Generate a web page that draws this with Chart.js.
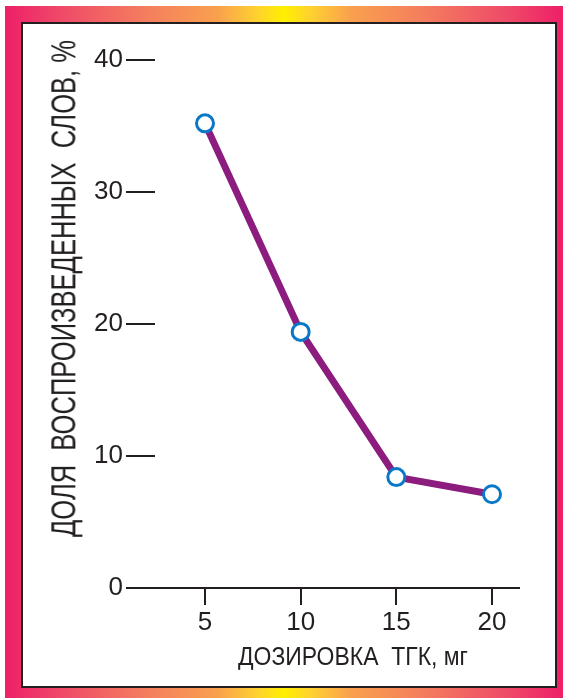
<!DOCTYPE html>
<html>
<head>
<meta charset="utf-8">
<script src="https://cdn.jsdelivr.net/npm/chart.js@4"></script>
<style>
  html, body { margin: 0; padding: 0; background: #fff; }
  body { width: 563px; height: 698px; position: relative; overflow: hidden; }
  .frame {
    position: absolute; left: 5px; top: 6px; width: 558px; height: 692px;
    background: linear-gradient(to right, #ee1f68 0%, #ef4a68 10%, #f47d5e 25%, #f9a04e 38%, #ffd030 45%, #fff000 50%, #ffd030 55%, #f9a04e 62%, #f47d5e 75%, #ef4a68 90%, #ee1f68 100%);
  }
  .panel {
    position: absolute; left: 21px; top: 22px; width: 532px; height: 662px;
    background: #fff; border: 2px solid #231f20;
  }
  canvas { position: absolute; left: 0; top: 0; }
  .axis-title {
    position: absolute; left: 0; top: 0; white-space: pre;
    font-family: "Liberation Sans", Arial, sans-serif;
    color: #231f20; transform-origin: 0 0;
  }
  #xTitle { font-size: 25px; line-height: 25px; }
  #yTitle { font-size: 35px; line-height: 35px; }
</style>
</head>
<body>
<div class="frame"></div>
<div class="panel"></div>
<canvas id="chart" width="563" height="698"></canvas>
<div class="axis-title" id="xTitle">ДОЗИРОВКА  ТГК, мг</div>
<div class="axis-title" id="yTitle">ДОЛЯ  ВОСПРОИЗВЕДЕННЫХ  СЛОВ, %</div>
<script>
// Dose of THC (mg) and share of recalled words (%)
const doses = [5, 10, 15, 20];
const recalledShare = [35.2, 19.4, 8.4, 7.1];
const xTickValues = [5, 10, 15, 20];
const yTickValues = [0, 10, 20, 30, 40];

const ink = '#231f20';
const tickFont = { family: '"Liberation Sans", Arial, sans-serif', size: 26, lineHeight: 1.2 };

// Axis titles use a narrowed sans: width is fitted to the given length,
// the baseline is placed at (cx, cy) and the text is centred on it.
function placeTitle(el, cx, cy, length, fontSize, angle) {
  const w = el.getBoundingClientRect().width;
  const k = length / w;
  const base = 0.8465 * fontSize;
  el.style.transform = `translate(${cx}px, ${cy}px) rotate(${angle}deg) scaleX(${k}) translate(-50%, -${base}px)`;
}
placeTitle(document.getElementById('xTitle'), 353, 665, 230, 25, 0);
placeTitle(document.getElementById('yTitle'), 75, 288.5, 497, 35, -90);

new Chart(document.getElementById('chart'), {
  type: 'line',
  data: {
    datasets: [{
      data: doses.map((d, i) => ({ x: d, y: recalledShare[i] })),
      borderColor: '#8c1d7e',
      borderWidth: 7,
      tension: 0,
      pointRadius: 8.5,
      pointHoverRadius: 8.5,
      pointBorderWidth: 3,
      pointBackgroundColor: '#ffffff',
      pointBorderColor: '#0a78c8',
      clip: false
    }]
  },
  options: {
    responsive: false,
    animation: false,
    events: [],
    layout: { padding: { left: 75, right: 44, top: 60, bottom: 50 } },
    plugins: { legend: { display: false }, tooltip: { enabled: false } },
    scales: {
      x: {
        type: 'linear',
        min: 2.387,
        max: 21.411,
        afterFit: s => { s.height = 60; },
        afterBuildTicks: s => { s.ticks = xTickValues.map(v => ({ value: v })); },
        border: { display: true, color: ink, width: 2 },
        grid: { drawOnChartArea: false, drawTicks: true, tickLength: 17, tickWidth: 2, tickColor: ink, color: ink, lineWidth: 2 },
        ticks: { color: ink, font: tickFont, padding: 2, maxRotation: 0, autoSkip: false }
      },
      y: {
        min: 0,
        max: 40,
        afterFit: s => { s.width = 80; },
        afterBuildTicks: s => { s.ticks = yTickValues.map(v => ({ value: v })); },
        border: { display: false },
        grid: { drawOnChartArea: false, drawTicks: true, tickLength: 29, tickWidth: 2, tickColor: ink, color: ink, lineWidth: 2 },
        ticks: { color: ink, font: tickFont, padding: 3, autoSkip: false }
      }
    }
  }
});
</script>
</body>
</html>
